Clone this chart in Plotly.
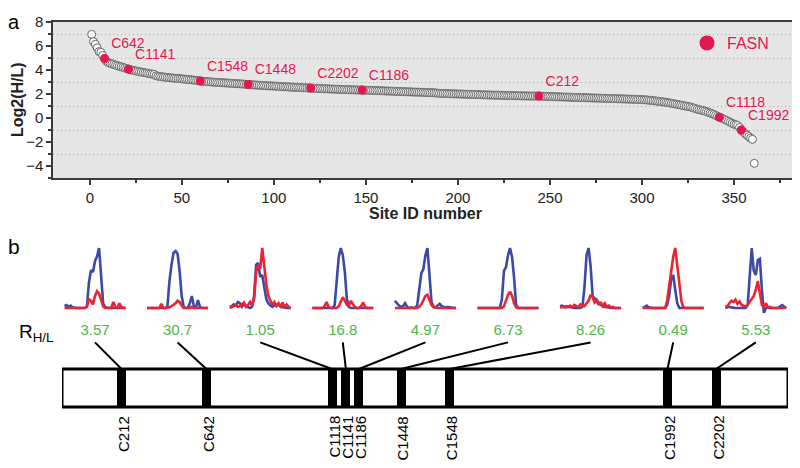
import plotly.graph_objects as go

# ---- panel a: log2(H/L) for every quantified site, ranked ----
log2_ratio = [
    6.97, 6.36, 6.14, 5.85, 5.53, 5.47, 5.21, 4.95, 4.74, 4.62,
    4.55, 4.51, 4.46, 4.41, 4.36, 4.31, 4.27, 4.22, 4.17, 4.12,
    4.07, 4.03, 3.99, 3.96, 3.92, 3.89, 3.86, 3.83, 3.80, 3.77,
    3.74, 3.71, 3.68, 3.66, 3.63, 3.52, 3.48, 3.46, 3.44, 3.42,
    3.40, 3.38, 3.36, 3.35, 3.33, 3.32, 3.30, 3.29, 3.28, 3.26,
    3.25, 3.23, 3.22, 3.20, 3.19, 3.17, 3.15, 3.13, 3.11, 3.08,
    3.07, 3.05, 3.04, 3.03, 3.02, 3.00, 2.99, 2.98, 2.97, 2.96,
    2.95, 2.94, 2.93, 2.92, 2.91, 2.90, 2.89, 2.88, 2.87, 2.86,
    2.85, 2.84, 2.83, 2.82, 2.80, 2.79, 2.78, 2.77, 2.76, 2.75,
    2.74, 2.73, 2.72, 2.71, 2.70, 2.69, 2.68, 2.67, 2.67, 2.66,
    2.65, 2.64, 2.63, 2.62, 2.61, 2.60, 2.60, 2.59, 2.58, 2.57,
    2.56, 2.56, 2.55, 2.54, 2.53, 2.52, 2.52, 2.51, 2.50, 2.49,
    2.48, 2.48, 2.47, 2.46, 2.46, 2.45, 2.44, 2.44, 2.43, 2.42,
    2.42, 2.41, 2.40, 2.40, 2.39, 2.39, 2.38, 2.37, 2.37, 2.36,
    2.36, 2.35, 2.35, 2.34, 2.34, 2.33, 2.33, 2.33, 2.32, 2.31,
    2.31, 2.30, 2.30, 2.29, 2.29, 2.28, 2.28, 2.27, 2.27, 2.26,
    2.25, 2.25, 2.24, 2.24, 2.23, 2.22, 2.22, 2.21, 2.21, 2.20,
    2.19, 2.19, 2.18, 2.18, 2.17, 2.16, 2.16, 2.15, 2.15, 2.14,
    2.14, 2.13, 2.12, 2.12, 2.11, 2.11, 2.10, 2.09, 2.07, 2.05,
    2.05, 2.04, 2.04, 2.03, 2.03, 2.02, 2.02, 2.01, 2.01, 2.00,
    2.00, 1.99, 1.99, 1.98, 1.98, 1.97, 1.97, 1.96, 1.96, 1.95,
    1.95, 1.94, 1.94, 1.93, 1.93, 1.92, 1.92, 1.91, 1.91, 1.90,
    1.90, 1.90, 1.89, 1.89, 1.88, 1.88, 1.87, 1.87, 1.87, 1.86,
    1.86, 1.85, 1.85, 1.85, 1.84, 1.84, 1.84, 1.83, 1.83, 1.83,
    1.83, 1.83, 1.83, 1.83, 1.82, 1.81, 1.80, 1.80, 1.79, 1.79,
    1.78, 1.78, 1.77, 1.77, 1.76, 1.76, 1.75, 1.75, 1.74, 1.74,
    1.73, 1.73, 1.72, 1.72, 1.71, 1.71, 1.70, 1.70, 1.69, 1.69,
    1.68, 1.68, 1.67, 1.67, 1.66, 1.66, 1.65, 1.65, 1.64, 1.64,
    1.63, 1.63, 1.62, 1.62, 1.61, 1.61, 1.60, 1.60, 1.59, 1.59,
    1.58, 1.58, 1.57, 1.57, 1.56, 1.56, 1.55, 1.54, 1.54, 1.53,
    1.52, 1.51, 1.50, 1.48, 1.47, 1.45, 1.43, 1.41, 1.39, 1.37,
    1.35, 1.33, 1.31, 1.28, 1.26, 1.23, 1.20, 1.17, 1.14, 1.11,
    1.08, 1.05, 1.02, 0.99, 0.96, 0.93, 0.89, 0.84, 0.79, 0.74,
    0.70, 0.66, 0.62, 0.58, 0.53, 0.48, 0.42, 0.36, 0.30, 0.22,
    0.14, 0.07, 0.01, -0.06, -0.13, -0.20, -0.28, -0.36, -0.44, -0.52,
    -0.56, -0.62, -0.78, -1.00, -1.15, -1.30, -1.42, -1.55, -1.68, -1.78,
    -3.78,
]
site_id = list(range(1, len(log2_ratio) + 1))

# FASN sites highlighted in panel a
fasn_sites = ["C642", "C1141", "C1548", "C1448", "C2202", "C1186", "C212", "C1118", "C1992"]
fasn_rank = [8, 21, 60, 86, 120, 148, 244, 342, 354]
fasn_log2 = [4.95, 4.07, 3.08, 2.79, 2.49, 2.33, 1.83, 0.07, -1.00]

# ---- panel b: FASN domain sketch ----
band_sites = ["C212", "C642", "C1118", "C1141", "C1186", "C1448", "C1548", "C1992", "C2202"]
band_pos = [8.2, 19.9, 37.2, 39.1, 40.9, 46.7, 53.4, 83.4, 90.1]   # % along drawn bar
ratio_hl = ["3.57", "30.7", "1.05", "16.8", "4.97", "6.73", "8.26", "0.49", "5.53"]

# extracted ion chromatograms (heavy = blue, light = red), one per site
xic_heavy = [
    [0.03, 0.05, 0.02, 0.04, 0.01, 0, 0, 0, 0, 0, 0, 0.02, 0.42, 0.63, 0.6, 0.78, 0.86, 1.0, 0.55, 0.08, 0.01, 0, 0, 0, 0, 0, 0, 0, 0, 0, 0],
    [0, 0, 0, 0, 0, 0, 0, 0, 0, 0, 0.02, 0.45, 0.72, 0.92, 0.95, 0.9, 0.62, 0.2, 0.02, 0, 0, 0.08, 0.2, 0.03, 0.01, 0.13, 0.02, 0, 0, 0, 0],
    [0.02, 0.03, 0.06, 0.04, 0.1, 0.08, 0.02, 0.07, 0.03, 0.01, 0, 0.02, 0.2, 0.72, 0.75, 0.52, 0.55, 0.35, 0.15, 0.08, 0.04, 0.02, 0.05, 0.03, 0.06, 0.02, 0.01, 0, 0, 0, 0],
    [0, 0, 0, 0, 0, 0, 0, 0, 0, 0, 0, 0.05, 0.45, 0.85, 1.0, 0.88, 0.6, 0.15, 0.02, 0, 0, 0, 0, 0, 0, 0, 0, 0, 0, 0, 0],
    [0.12, 0.08, 0.04, 0.02, 0.03, 0.08, 0.02, 0, 0.01, 0, 0, 0.05, 0.3, 0.58, 0.65, 0.88, 1.0, 0.45, 0.1, 0.02, 0.01, 0.04, 0.07, 0.03, 0.02, 0.01, 0.02, 0.01, 0, 0, 0],
    [0, 0, 0, 0, 0, 0, 0, 0, 0, 0, 0, 0, 0.15, 0.62, 0.68, 0.88, 1.0, 0.85, 0.5, 0.05, 0, 0, 0, 0, 0, 0, 0, 0, 0, 0, 0],
    [0.03, 0.04, 0.02, 0.01, 0.02, 0.01, 0, 0, 0, 0, 0, 0.02, 0.35, 0.88, 1.0, 0.7, 0.2, 0.16, 0.14, 0.08, 0.05, 0.03, 0.02, 0.01, 0, 0, 0, 0, 0, 0, 0],
    [0, 0.02, 0.04, 0.01, 0, 0, 0, 0, 0, 0, 0, 0, 0.05, 0.2, 0.48, 0.55, 0.3, 0.08, 0, 0, 0, 0, 0, 0, 0, 0, 0, 0, 0, 0, 0],
    [0, 0.01, 0.02, 0.01, 0, 0, 0, 0, 0, 0, 0, 0.05, 0.55, 1.0, 0.62, 0.55, 0.8, 0.82, 0.3, -0.08, 0.0, 0.01, 0, 0, 0, 0, 0, 0.03, 0.05, 0.02, 0],
]
xic_light = [
    [0, 0, 0, 0, 0, 0, 0, 0, 0, 0, 0, 0.02, 0.15, 0.12, 0.06, 0.2, 0.28, 0.24, 0.12, 0.03, 0, 0, 0, 0, 0.1, 0.02, 0, 0.08, 0.01, 0, 0],
    [0, 0, 0, 0, 0, 0, 0, 0.07, 0, 0, 0, 0.01, 0.03, 0.05, 0.08, 0.12, 0.1, 0.04, 0, 0, 0, 0, 0.02, 0, 0, 0, 0, 0, 0, 0, 0],
    [0, 0.01, 0.03, 0.05, 0.02, 0.03, 0.06, 0.09, 0.02, 0.05, 0.1, 0.04, 0.15, 0.6, 0.72, 0.65, 1.0, 0.68, 0.4, 0.2, 0.12, 0.05, 0.1, 0.04, 0.08, 0.03, 0.09, 0.02, 0.06, 0.02, 0],
    [0, 0, 0, 0, 0, 0, 0.03, 0.1, 0.02, 0, 0, 0, 0, 0.03, 0.1, 0.18, 0.12, 0.05, 0.04, 0.12, 0.06, 0.02, 0, 0, 0.03, 0.09, 0.02, 0, 0, 0, 0],
    [0, 0, 0, 0, 0, 0, 0, 0, 0, 0, 0, 0, 0.02, 0.06, 0.13, 0.2, 0.22, 0.14, 0.05, 0.01, 0, 0, 0, 0, 0, 0, 0, 0, 0, 0, 0],
    [0, 0, 0, 0, 0, 0, 0, 0, 0, 0, 0, 0, 0, 0.03, 0.12, 0.22, 0.27, 0.2, 0.08, 0.01, 0, 0, 0, 0, 0, 0, 0, 0, 0, 0, 0],
    [0, 0.02, 0.01, 0.03, 0.02, 0.04, 0.01, 0.05, 0.03, 0.02, 0.06, 0.04, 0.03, 0.08, 0.12, 0.22, 0.18, 0.09, 0.12, 0.05, 0.1, 0.03, 0.08, 0.02, 0.04, 0.01, 0.02, 0, 0, 0, 0],
    [0, 0, 0, 0, 0, 0, 0, 0, 0, 0, 0, 0, 0.12, 0.38, 0.62, 0.85, 1.0, 0.75, 0.42, 0.12, 0.01, 0, 0, 0, 0, 0, 0, 0, 0, 0, 0],
    [0.02, 0.03, 0.08, 0.12, 0.1, 0.14, 0.07, 0.11, 0.05, 0.03, 0.02, 0.05, 0.1, 0.15, 0.2, 0.3, 0.45, 0.25, 0.05, 0.02, 0.08, 0.01, 0.02, 0, 0, 0, 0, 0, 0, 0, 0],
]

FONT = "Liberation Sans, Arial, sans-serif"
RED = "#e4174f"
GREEN = "#4cb748"
BLUE = "#3a4aa6"
XRED = "#ee2230"
W, H = 800, 468
OX, OY = 8, 8   # the page puts the plot 8 px in from the top-left corner


def px(x):
    # page pixel -> paper x
    return (x - OX) / W


def py(y):
    # page pixel -> paper y
    return 1 - (y - OY) / H


fig = go.Figure()

fig.add_trace(go.Scatter(
    x=site_id, y=log2_ratio, mode="markers", showlegend=False,
    marker=dict(size=8, color="white", line=dict(color="#666666", width=1)),
))
fig.add_trace(go.Scatter(
    x=fasn_rank, y=fasn_log2, mode="markers+text", text=fasn_sites,
    textposition="top right", showlegend=False, cliponaxis=False,
    textfont=dict(color=RED, size=14),
    marker=dict(size=9, color=RED),
))
# legend-only entry
fig.add_trace(go.Scatter(
    x=[None], y=[None], mode="markers", name="FASN",
    marker=dict(size=15, color=RED),
))

# slot centres for the inset chromatograms (page pixels -> bar units)
slot_px = [95 + 82.6 * i for i in range(9)]
bar_left, bar_right = 62, 788
slot_u = [(p - bar_left) / (bar_right - bar_left) * 100 for p in slot_px]

# bands in the domain bar
fig.add_trace(go.Bar(
    x=band_pos, y=[1] * len(band_pos), base=0, width=1.25,
    marker=dict(color="black", line=dict(width=0)),
    xaxis="x2", yaxis="y2", showlegend=False,
))
# connector lines
lx, ly = [], []
for s, b in zip(slot_u, band_pos):
    lx += [s, b, None]
    ly += [1.7, 1.0, None]
fig.add_trace(go.Scatter(
    x=lx, y=ly, mode="lines", line=dict(color="black", width=2),
    xaxis="x2", yaxis="y2", showlegend=False,
))
fig.add_trace(go.Scatter(
    x=slot_u, y=[2.0] * 9, mode="text", text=ratio_hl,
    textfont=dict(color=GREEN, size=15),
    xaxis="x2", yaxis="y2", showlegend=False,
))

# inset chromatograms
t = list(range(31))
for i in range(9):
    n = i + 3
    fig.add_trace(go.Scatter(x=t, y=xic_heavy[i], mode="lines",
                             line=dict(color=BLUE, width=2.6),
                             xaxis=f"x{n}", yaxis=f"y{n}", showlegend=False))
    fig.add_trace(go.Scatter(x=t, y=xic_light[i], mode="lines",
                             line=dict(color=XRED, width=2.6),
                             xaxis=f"x{n}", yaxis=f"y{n}", showlegend=False))
    c = slot_px[i]
    fig.layout[f"xaxis{n}"] = dict(domain=[px(c - 31.5), px(c + 31.5)], range=[-0.5, 30.5],
                                   visible=False, anchor=f"y{n}")
    fig.layout[f"yaxis{n}"] = dict(domain=[py(314), py(245)], range=[-0.1, 1.05],
                                   visible=False, anchor=f"x{n}")

axis_line = dict(showline=True, linecolor="#3a3a3a", linewidth=1.5, mirror=True,
                 ticks="outside", ticklen=5, tickwidth=1.5, tickcolor="#3a3a3a",
                 zeroline=False, showgrid=False, automargin=False,
                 tickfont=dict(size=15, color="#222"))

# domain bar spans page rows 369..407; its axis covers page rows 320..476
bar_px = 38
yr0 = -(476 - 407) / bar_px
yr1 = yr0 + (476 - 320) / bar_px

fig.update_layout(
    width=W, height=H, margin=dict(l=0, r=0, t=0, b=0, autoexpand=False),
    paper_bgcolor="white", plot_bgcolor="rgba(0,0,0,0)",
    font=dict(family=FONT, color="#222"),
    xaxis=dict(domain=[px(53), px(792)], range=[-20, 381.5], dtick=50, tick0=0,
               minor=dict(dtick=25, ticks="outside", ticklen=3, tickcolor="#3a3a3a"),
               anchor="y", **axis_line),
    yaxis=dict(domain=[py(178), py(22)], range=[-5, 8], dtick=2, tick0=0,
               minor=dict(dtick=1, ticks="outside", ticklen=3, tickcolor="#3a3a3a",
                          showgrid=True, gridcolor="#a8a8a8", griddash="1px,3px", gridwidth=1),
               anchor="x", **axis_line),
    xaxis2=dict(domain=[px(bar_left), px(bar_right)], range=[0, 100], visible=False, anchor="y2"),
    yaxis2=dict(domain=[0, py(320)], range=[yr0, yr1], visible=False, anchor="x2"),
    bargap=0,
    showlegend=True,
    legend=dict(x=px(687), y=py(43), xanchor="left", yanchor="middle",
                font=dict(size=16, color=RED), bgcolor="rgba(0,0,0,0)",
                itemsizing="trace"),
    shapes=[
        dict(type="rect", xref="x domain", yref="y domain", x0=0, x1=1, y0=0, y1=1,
             fillcolor="#e6e6e6", line=dict(width=0), layer="below"),
        dict(type="rect", xref="x2", yref="y2", x0=0, x1=100, y0=0, y1=1,
             fillcolor="rgba(0,0,0,0)", line=dict(color="black", width=3), layer="above"),
    ],
)

ann = [
    dict(text="a", x=px(14), y=py(22), font=dict(size=20, color="black")),
    dict(text="b", x=px(14), y=py(246), font=dict(size=21, color="black")),
    dict(text="<b>Log2(H/L)</b>", x=px(18), y=py(100), textangle=-90,
         font=dict(size=16, color="#222")),
    dict(text="<b>Site ID number</b>", x=px(425), y=py(213),
         font=dict(size=16, color="#222")),
    dict(text="R<sub>H/L</sub>", x=px(17), y=py(333), xanchor="left",
         font=dict(size=19, color="black")),
]
for a in ann:
    a.setdefault("xanchor", "center")
    fig.add_annotation(xref="paper", yref="paper", showarrow=False, yanchor="middle", **a)

for s, b in zip(band_sites, band_pos):
    fig.add_annotation(xref="x2", yref="y2", x=b + 0.2, y=0, yshift=-7, text=s,
                       textangle=-90, xanchor="center", yanchor="top", showarrow=False,
                       font=dict(size=15, color="black"))

fig.write_html("out.html")
